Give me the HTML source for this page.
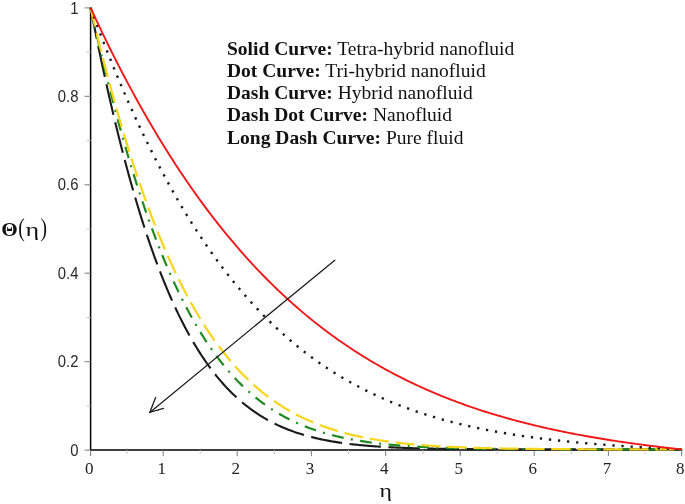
<!DOCTYPE html>
<html><head><meta charset="utf-8"><title>Temperature profile</title>
<style>
html,body{margin:0;padding:0;background:#fff;}
svg{display:block}
.sans{font-family:"Liberation Sans",sans-serif;}
.serif{font-family:"Liberation Serif",serif;}
</style></head><body>
<svg width="685" height="504" viewBox="0 0 685 504">
<rect width="685" height="504" fill="#fff"/>

<g stroke="#000" stroke-width="1.5" fill="none">
<path d="M90.6 7.4 V450.1 H682.3000000000001"/>
</g>
<g stroke="#7a7a7a" stroke-width="1" fill="none">
<path d="M90.6 450.1 v6"/>
<path d="M163.2 450.1 v6"/>
<path d="M237.2 450.1 v6"/>
<path d="M311.4 450.1 v6"/>
<path d="M385.7 450.1 v6"/>
<path d="M460.2 450.1 v6"/>
<path d="M534.2 450.1 v6"/>
<path d="M608.4 450.1 v6"/>
<path d="M681.7 450.1 v6"/>
<path d="M90.6 450.1 h-6"/>
<path d="M90.6 361.7 h-6"/>
<path d="M90.6 273.2 h-6"/>
<path d="M90.6 184.8 h-6"/>
<path d="M90.6 96.3 h-6"/>
<path d="M90.6 7.9 h-6"/>
</g>
<g stroke="#c4c4c4" stroke-width="1" fill="none">
<path d="M126.9 450.1 v4"/>
<path d="M200.2 450.1 v4"/>
<path d="M274.3 450.1 v4"/>
<path d="M348.5 450.1 v4"/>
<path d="M422.9 450.1 v4"/>
<path d="M497.2 450.1 v4"/>
<path d="M571.3 450.1 v4"/>
<path d="M645.0 450.1 v4"/>
<path d="M90.6 405.9 h-4"/>
<path d="M90.6 317.4 h-4"/>
<path d="M90.6 229.0 h-4"/>
<path d="M90.6 140.6 h-4"/>
<path d="M90.6 52.1 h-4"/>
</g>
<path d="M90.60 7.80 L92.08 15.40 L93.56 22.90 L95.05 30.32 L96.53 37.64 L98.01 44.87 L99.49 52.01 L100.97 59.05 L102.45 66.01 L103.94 72.88 L105.42 79.65 L106.90 86.34 L108.38 92.94 L109.86 99.45 L111.34 105.87 L112.83 112.20 L114.31 118.45 L115.79 124.61 L117.27 130.68 L118.75 136.67 L120.23 142.58 L121.72 148.40 L123.20 154.13 L124.68 159.78 L126.16 165.35 L127.64 170.84 L129.12 176.24 L130.61 181.57 L132.09 186.81 L133.57 191.98 L135.05 197.06 L136.53 202.07 L138.01 207.00 L139.50 211.85 L140.98 216.63 L142.46 221.33 L143.94 225.96 L145.42 230.51 L146.90 234.99 L148.39 239.39 L149.87 243.72 L151.35 247.99 L152.83 252.18 L154.31 256.30 L155.79 260.35 L157.28 264.33 L158.76 268.25 L160.24 272.10 L161.72 275.88 L163.20 279.60 L164.69 283.25 L166.17 286.84 L167.65 290.37 L169.13 293.83 L170.61 297.23 L172.09 300.57 L173.58 303.85 L175.06 307.07 L176.54 310.23 L178.02 313.34 L179.50 316.38 L180.98 319.37 L182.47 322.31 L183.95 325.18 L185.43 328.01 L186.91 330.78 L188.39 333.50 L189.87 336.16 L191.36 338.78 L192.84 341.34 L194.32 343.86 L195.80 346.32 L197.28 348.74 L198.76 351.10 L200.25 353.43 L201.73 355.70 L203.21 357.93 L204.69 360.11 L206.17 362.25 L207.65 364.35 L209.14 366.40 L210.62 368.41 L212.10 370.38 L213.58 372.31 L215.06 374.20 L216.54 376.05 L218.03 377.86 L219.51 379.63 L220.99 381.36 L222.47 383.06 L223.95 384.71 L225.44 386.34 L226.92 387.93 L228.40 389.48 L229.88 391.00 L231.36 392.49 L232.84 393.94 L234.33 395.36 L235.81 396.75 L237.29 398.11 L238.77 399.44 L240.25 400.73 L241.73 402.00 L243.22 403.24 L244.70 404.45 L246.18 405.64 L247.66 406.79 L249.14 407.92 L250.62 409.02 L252.11 410.10 L253.59 411.15 L255.07 412.18 L256.55 413.18 L258.03 414.16 L259.51 415.12 L261.00 416.05 L262.48 416.96 L263.96 417.85 L265.44 418.71 L266.92 419.56 L268.40 420.38 L269.89 421.19 L271.37 421.97 L272.85 422.74 L274.33 423.48 L275.81 424.21 L277.29 424.92 L278.78 425.61 L280.26 426.29 L281.74 426.94 L283.22 427.58 L284.70 428.21 L286.18 428.81 L287.67 429.41 L289.15 429.98 L290.63 430.55 L292.11 431.09 L293.59 431.63 L295.08 432.14 L296.56 432.65 L298.04 433.14 L299.52 433.62 L301.00 434.09 L302.48 434.54 L303.97 434.98 L305.45 435.41 L306.93 435.83 L308.41 436.24 L309.89 436.63 L311.37 437.02 L312.86 437.39 L314.34 437.76 L315.82 438.11 L317.30 438.46 L318.78 438.79 L320.26 439.12 L321.75 439.43 L323.23 439.74 L324.71 440.04 L326.19 440.33 L327.67 440.61 L329.15 440.89 L330.64 441.15 L332.12 441.41 L333.60 441.66 L335.08 441.91 L336.56 442.14 L338.04 442.38 L339.53 442.60 L341.01 442.82 L342.49 443.03 L343.97 443.23 L345.45 443.43 L346.93 443.62 L348.42 443.81 L349.90 443.99 L351.38 444.17 L352.86 444.34 L354.34 444.50 L355.83 444.66 L357.31 444.82 L358.79 444.97 L360.27 445.12 L361.75 445.26 L363.23 445.40 L364.72 445.53 L366.20 445.66 L367.68 445.78 L369.16 445.91 L370.64 446.02 L372.12 446.14 L373.61 446.25 L375.09 446.35 L376.57 446.46 L378.05 446.56 L379.53 446.66 L381.01 446.75 L382.50 446.84 L383.98 446.93 L385.46 447.01 L386.94 447.10 L388.42 447.18 L389.90 447.25 L391.39 447.33 L392.87 447.40 L394.35 447.47 L395.83 447.54 L397.31 447.60 L398.79 447.67 L400.28 447.73 L401.76 447.79 L403.24 447.85 L404.72 447.90 L406.20 447.96 L407.68 448.01 L409.17 448.06 L410.65 448.11 L412.13 448.15 L413.61 448.20 L415.09 448.24 L416.57 448.28 L418.06 448.32 L419.54 448.36 L421.02 448.40 L422.50 448.44 L423.98 448.47 L425.47 448.51 L426.95 448.54 L428.43 448.57 L429.91 448.60 L431.39 448.63 L432.87 448.66 L434.36 448.69 L435.84 448.72 L437.32 448.74 L438.80 448.77 L440.28 448.79 L441.76 448.81 L443.25 448.84 L444.73 448.86 L446.21 448.88 L447.69 448.90 L449.17 448.92 L450.65 448.94 L452.14 448.95 L453.62 448.97 L455.10 448.99 L456.58 449.00 L458.06 449.02 L459.54 449.03 L461.03 449.05 L462.51 449.06 L463.99 449.08 L465.47 449.09 L466.95 449.10 L468.43 449.11 L469.92 449.12 L471.40 449.14 L472.88 449.15 L474.36 449.16 L475.84 449.17 L477.32 449.18 L478.81 449.18 L480.29 449.19 L481.77 449.20 L483.25 449.21 L484.73 449.22 L486.22 449.22 L487.70 449.23 L489.18 449.24 L490.66 449.25 L492.14 449.25 L493.62 449.26 L495.11 449.26 L496.59 449.27 L498.07 449.27 L499.55 449.28 L501.03 449.29 L502.51 449.29 L504.00 449.29 L505.48 449.30 L506.96 449.30 L508.44 449.31 L509.92 449.31 L511.40 449.32 L512.89 449.32 L514.37 449.32 L515.85 449.33 L517.33 449.33 L518.81 449.33 L520.29 449.33 L521.78 449.34 L523.26 449.34 L524.74 449.34 L526.22 449.35 L527.70 449.35 L529.18 449.35 L530.67 449.35 L532.15 449.35 L533.63 449.36 L535.11 449.36 L536.59 449.36 L538.07 449.36 L539.56 449.36 L541.04 449.37 L542.52 449.37 L544.00 449.37 L545.48 449.37 L546.96 449.37 L548.45 449.37 L549.93 449.37 L551.41 449.38 L552.89 449.38 L554.37 449.38 L555.86 449.38 L557.34 449.38 L558.82 449.38 L560.30 449.38 L561.78 449.38 L563.26 449.38 L564.75 449.38 L566.23 449.38 L567.71 449.39 L569.19 449.39 L570.67 449.39 L572.15 449.39 L573.64 449.39 L575.12 449.39 L576.60 449.39 L578.08 449.39 L579.56 449.39 L581.04 449.39 L582.53 449.39 L584.01 449.39 L585.49 449.39 L586.97 449.39 L588.45 449.39 L589.93 449.39 L591.42 449.39 L592.90 449.39 L594.38 449.39 L595.86 449.39 L597.34 449.39 L598.82 449.40 L600.31 449.40 L601.79 449.40 L603.27 449.40 L604.75 449.40 L606.23 449.40 L607.71 449.40 L609.20 449.40 L610.68 449.40 L612.16 449.40 L613.64 449.40 L615.12 449.40 L616.61 449.40 L618.09 449.40 L619.57 449.40 L621.05 449.40 L622.53 449.40 L624.01 449.40 L625.50 449.40 L626.98 449.40 L628.46 449.40 L629.94 449.40 L631.42 449.40 L632.90 449.40 L634.39 449.40 L635.87 449.40 L637.35 449.40 L638.83 449.40 L640.31 449.40 L641.79 449.40 L643.28 449.40 L644.76 449.40 L646.24 449.40 L647.72 449.40 L649.20 449.40 L650.68 449.40 L652.17 449.40 L653.65 449.40 L655.13 449.40 L656.61 449.40 L658.09 449.40 L659.57 449.40 L661.06 449.40 L662.54 449.40 L664.02 449.40 L665.50 449.40 L666.98 449.40 L668.46 449.40 L669.95 449.40 L671.43 449.40 L672.91 449.40 L674.39 449.40 L675.87 449.40 L677.35 449.40 L678.84 449.40 L680.32 449.40 L681.80 449.40" fill="none" stroke="#1a1a1a" stroke-width="2.1" stroke-dasharray="31.5 7.5"/>
<path d="M90.60 7.80 L92.08 14.51 L93.56 21.14 L95.05 27.71 L96.53 34.20 L98.01 40.62 L99.49 46.97 L100.97 53.25 L102.45 59.47 L103.94 65.61 L105.42 71.68 L106.90 77.68 L108.38 83.61 L109.86 89.47 L111.34 95.27 L112.83 100.99 L114.31 106.65 L115.79 112.24 L117.27 117.76 L118.75 123.21 L120.23 128.60 L121.72 133.92 L123.20 139.18 L124.68 144.37 L126.16 149.49 L127.64 154.55 L129.12 159.54 L130.61 164.47 L132.09 169.34 L133.57 174.14 L135.05 178.88 L136.53 183.55 L138.01 188.17 L139.50 192.72 L140.98 197.21 L142.46 201.64 L143.94 206.01 L145.42 210.32 L146.90 214.56 L148.39 218.75 L149.87 222.89 L151.35 226.96 L152.83 230.98 L154.31 234.93 L155.79 238.84 L157.28 242.68 L158.76 246.47 L160.24 250.20 L161.72 253.88 L163.20 257.51 L164.69 261.08 L166.17 264.60 L167.65 268.06 L169.13 271.48 L170.61 274.84 L172.09 278.15 L173.58 281.41 L175.06 284.61 L176.54 287.77 L178.02 290.88 L179.50 293.94 L180.98 296.96 L182.47 299.92 L183.95 302.84 L185.43 305.71 L186.91 308.53 L188.39 311.31 L189.87 314.04 L191.36 316.73 L192.84 319.38 L194.32 321.98 L195.80 324.54 L197.28 327.05 L198.76 329.53 L200.25 331.96 L201.73 334.35 L203.21 336.70 L204.69 339.01 L206.17 341.28 L207.65 343.51 L209.14 345.70 L210.62 347.85 L212.10 349.97 L213.58 352.05 L215.06 354.09 L216.54 356.10 L218.03 358.07 L219.51 360.00 L220.99 361.90 L222.47 363.77 L223.95 365.60 L225.44 367.40 L226.92 369.17 L228.40 370.90 L229.88 372.60 L231.36 374.27 L232.84 375.91 L234.33 377.52 L235.81 379.10 L237.29 380.64 L238.77 382.16 L240.25 383.65 L241.73 385.11 L243.22 386.55 L244.70 387.95 L246.18 389.33 L247.66 390.68 L249.14 392.01 L250.62 393.31 L252.11 394.58 L253.59 395.83 L255.07 397.06 L256.55 398.26 L258.03 399.43 L259.51 400.59 L261.00 401.71 L262.48 402.82 L263.96 403.91 L265.44 404.97 L266.92 406.01 L268.40 407.03 L269.89 408.02 L271.37 409.00 L272.85 409.96 L274.33 410.90 L275.81 411.81 L277.29 412.71 L278.78 413.59 L280.26 414.45 L281.74 415.29 L283.22 416.12 L284.70 416.93 L286.18 417.71 L287.67 418.49 L289.15 419.24 L290.63 419.98 L292.11 420.71 L293.59 421.41 L295.08 422.11 L296.56 422.78 L298.04 423.44 L299.52 424.09 L301.00 424.72 L302.48 425.34 L303.97 425.95 L305.45 426.54 L306.93 427.12 L308.41 427.68 L309.89 428.23 L311.37 428.77 L312.86 429.30 L314.34 429.82 L315.82 430.32 L317.30 430.81 L318.78 431.29 L320.26 431.76 L321.75 432.22 L323.23 432.67 L324.71 433.10 L326.19 433.53 L327.67 433.95 L329.15 434.35 L330.64 434.75 L332.12 435.14 L333.60 435.52 L335.08 435.89 L336.56 436.25 L338.04 436.60 L339.53 436.94 L341.01 437.28 L342.49 437.60 L343.97 437.92 L345.45 438.23 L346.93 438.54 L348.42 438.83 L349.90 439.12 L351.38 439.40 L352.86 439.68 L354.34 439.94 L355.83 440.20 L357.31 440.46 L358.79 440.71 L360.27 440.95 L361.75 441.18 L363.23 441.41 L364.72 441.64 L366.20 441.85 L367.68 442.07 L369.16 442.27 L370.64 442.47 L372.12 442.67 L373.61 442.86 L375.09 443.05 L376.57 443.23 L378.05 443.41 L379.53 443.58 L381.01 443.74 L382.50 443.91 L383.98 444.07 L385.46 444.22 L386.94 444.37 L388.42 444.52 L389.90 444.66 L391.39 444.80 L392.87 444.93 L394.35 445.06 L395.83 445.19 L397.31 445.32 L398.79 445.44 L400.28 445.55 L401.76 445.67 L403.24 445.78 L404.72 445.89 L406.20 445.99 L407.68 446.10 L409.17 446.20 L410.65 446.29 L412.13 446.39 L413.61 446.48 L415.09 446.57 L416.57 446.65 L418.06 446.74 L419.54 446.82 L421.02 446.90 L422.50 446.97 L423.98 447.05 L425.47 447.12 L426.95 447.19 L428.43 447.26 L429.91 447.33 L431.39 447.39 L432.87 447.45 L434.36 447.51 L435.84 447.57 L437.32 447.63 L438.80 447.69 L440.28 447.74 L441.76 447.79 L443.25 447.84 L444.73 447.89 L446.21 447.94 L447.69 447.99 L449.17 448.03 L450.65 448.08 L452.14 448.12 L453.62 448.16 L455.10 448.20 L456.58 448.24 L458.06 448.28 L459.54 448.31 L461.03 448.35 L462.51 448.38 L463.99 448.42 L465.47 448.45 L466.95 448.48 L468.43 448.51 L469.92 448.54 L471.40 448.57 L472.88 448.60 L474.36 448.62 L475.84 448.65 L477.32 448.67 L478.81 448.70 L480.29 448.72 L481.77 448.74 L483.25 448.77 L484.73 448.79 L486.22 448.81 L487.70 448.83 L489.18 448.85 L490.66 448.87 L492.14 448.88 L493.62 448.90 L495.11 448.92 L496.59 448.94 L498.07 448.95 L499.55 448.97 L501.03 448.98 L502.51 449.00 L504.00 449.01 L505.48 449.02 L506.96 449.04 L508.44 449.05 L509.92 449.06 L511.40 449.07 L512.89 449.09 L514.37 449.10 L515.85 449.11 L517.33 449.12 L518.81 449.13 L520.29 449.14 L521.78 449.15 L523.26 449.16 L524.74 449.16 L526.22 449.17 L527.70 449.18 L529.18 449.19 L530.67 449.20 L532.15 449.20 L533.63 449.21 L535.11 449.22 L536.59 449.23 L538.07 449.23 L539.56 449.24 L541.04 449.24 L542.52 449.25 L544.00 449.26 L545.48 449.26 L546.96 449.27 L548.45 449.27 L549.93 449.28 L551.41 449.28 L552.89 449.29 L554.37 449.29 L555.86 449.29 L557.34 449.30 L558.82 449.30 L560.30 449.31 L561.78 449.31 L563.26 449.31 L564.75 449.32 L566.23 449.32 L567.71 449.32 L569.19 449.33 L570.67 449.33 L572.15 449.33 L573.64 449.33 L575.12 449.34 L576.60 449.34 L578.08 449.34 L579.56 449.34 L581.04 449.35 L582.53 449.35 L584.01 449.35 L585.49 449.35 L586.97 449.35 L588.45 449.36 L589.93 449.36 L591.42 449.36 L592.90 449.36 L594.38 449.36 L595.86 449.36 L597.34 449.37 L598.82 449.37 L600.31 449.37 L601.79 449.37 L603.27 449.37 L604.75 449.37 L606.23 449.37 L607.71 449.38 L609.20 449.38 L610.68 449.38 L612.16 449.38 L613.64 449.38 L615.12 449.38 L616.61 449.38 L618.09 449.38 L619.57 449.38 L621.05 449.38 L622.53 449.38 L624.01 449.39 L625.50 449.39 L626.98 449.39 L628.46 449.39 L629.94 449.39 L631.42 449.39 L632.90 449.39 L634.39 449.39 L635.87 449.39 L637.35 449.39 L638.83 449.39 L640.31 449.39 L641.79 449.39 L643.28 449.39 L644.76 449.39 L646.24 449.39 L647.72 449.39 L649.20 449.39 L650.68 449.40 L652.17 449.40 L653.65 449.40 L655.13 449.40 L656.61 449.40 L658.09 449.40 L659.57 449.40 L661.06 449.40 L662.54 449.40 L664.02 449.40 L665.50 449.40 L666.98 449.40 L668.46 449.40 L669.95 449.40 L671.43 449.40 L672.91 449.40 L674.39 449.40 L675.87 449.40 L677.35 449.40 L678.84 449.40 L680.32 449.40 L681.80 449.40" fill="none" stroke="#1f8a1f" stroke-width="2.2" stroke-dasharray="11.85 7.4 2 7.4"/>
<path d="M90.60 7.80 L92.08 14.11 L93.56 20.35 L95.05 26.53 L96.53 32.64 L98.01 38.69 L99.49 44.67 L100.97 50.59 L102.45 56.44 L103.94 62.23 L105.42 67.95 L106.90 73.62 L108.38 79.21 L109.86 84.75 L111.34 90.22 L112.83 95.64 L114.31 100.99 L115.79 106.27 L117.27 111.50 L118.75 116.67 L120.23 121.77 L121.72 126.82 L123.20 131.80 L124.68 136.73 L126.16 141.60 L127.64 146.41 L129.12 151.16 L130.61 155.85 L132.09 160.48 L133.57 165.06 L135.05 169.58 L136.53 174.05 L138.01 178.46 L139.50 182.81 L140.98 187.11 L142.46 191.35 L143.94 195.54 L145.42 199.68 L146.90 203.76 L148.39 207.79 L149.87 211.76 L151.35 215.69 L152.83 219.56 L154.31 223.38 L155.79 227.15 L157.28 230.87 L158.76 234.54 L160.24 238.16 L161.72 241.73 L163.20 245.25 L164.69 248.73 L166.17 252.15 L167.65 255.53 L169.13 258.86 L170.61 262.14 L172.09 265.38 L173.58 268.57 L175.06 271.72 L176.54 274.82 L178.02 277.88 L179.50 280.89 L180.98 283.86 L182.47 286.79 L183.95 289.67 L185.43 292.52 L186.91 295.32 L188.39 298.07 L189.87 300.79 L191.36 303.47 L192.84 306.11 L194.32 308.70 L195.80 311.26 L197.28 313.78 L198.76 316.26 L200.25 318.70 L201.73 321.11 L203.21 323.48 L204.69 325.81 L206.17 328.10 L207.65 330.36 L209.14 332.58 L210.62 334.77 L212.10 336.93 L213.58 339.05 L215.06 341.13 L216.54 343.19 L218.03 345.20 L219.51 347.19 L220.99 349.15 L222.47 351.07 L223.95 352.96 L225.44 354.82 L226.92 356.65 L228.40 358.45 L229.88 360.22 L231.36 361.96 L232.84 363.67 L234.33 365.35 L235.81 367.01 L237.29 368.63 L238.77 370.23 L240.25 371.80 L241.73 373.35 L243.22 374.86 L244.70 376.35 L246.18 377.82 L247.66 379.26 L249.14 380.68 L250.62 382.07 L252.11 383.43 L253.59 384.77 L255.07 386.09 L256.55 387.39 L258.03 388.66 L259.51 389.91 L261.00 391.14 L262.48 392.34 L263.96 393.52 L265.44 394.68 L266.92 395.82 L268.40 396.94 L269.89 398.04 L271.37 399.12 L272.85 400.18 L274.33 401.22 L275.81 402.24 L277.29 403.24 L278.78 404.22 L280.26 405.19 L281.74 406.13 L283.22 407.06 L284.70 407.97 L286.18 408.87 L287.67 409.74 L289.15 410.60 L290.63 411.44 L292.11 412.27 L293.59 413.08 L295.08 413.88 L296.56 414.66 L298.04 415.42 L299.52 416.17 L301.00 416.91 L302.48 417.63 L303.97 418.33 L305.45 419.02 L306.93 419.70 L308.41 420.37 L309.89 421.02 L311.37 421.66 L312.86 422.28 L314.34 422.90 L315.82 423.50 L317.30 424.09 L318.78 424.66 L320.26 425.23 L321.75 425.78 L323.23 426.32 L324.71 426.85 L326.19 427.37 L327.67 427.88 L329.15 428.38 L330.64 428.87 L332.12 429.35 L333.60 429.81 L335.08 430.27 L336.56 430.72 L338.04 431.16 L339.53 431.59 L341.01 432.01 L342.49 432.42 L343.97 432.82 L345.45 433.22 L346.93 433.60 L348.42 433.98 L349.90 434.35 L351.38 434.71 L352.86 435.06 L354.34 435.41 L355.83 435.75 L357.31 436.08 L358.79 436.40 L360.27 436.72 L361.75 437.03 L363.23 437.33 L364.72 437.62 L366.20 437.91 L367.68 438.20 L369.16 438.47 L370.64 438.74 L372.12 439.01 L373.61 439.26 L375.09 439.52 L376.57 439.76 L378.05 440.00 L379.53 440.24 L381.01 440.47 L382.50 440.69 L383.98 440.91 L385.46 441.13 L386.94 441.34 L388.42 441.54 L389.90 441.74 L391.39 441.94 L392.87 442.13 L394.35 442.31 L395.83 442.49 L397.31 442.67 L398.79 442.85 L400.28 443.01 L401.76 443.18 L403.24 443.34 L404.72 443.50 L406.20 443.65 L407.68 443.80 L409.17 443.95 L410.65 444.09 L412.13 444.23 L413.61 444.37 L415.09 444.50 L416.57 444.63 L418.06 444.76 L419.54 444.88 L421.02 445.00 L422.50 445.12 L423.98 445.23 L425.47 445.34 L426.95 445.45 L428.43 445.56 L429.91 445.66 L431.39 445.76 L432.87 445.86 L434.36 445.96 L435.84 446.05 L437.32 446.14 L438.80 446.23 L440.28 446.31 L441.76 446.40 L443.25 446.48 L444.73 446.56 L446.21 446.64 L447.69 446.72 L449.17 446.79 L450.65 446.86 L452.14 446.93 L453.62 447.00 L455.10 447.07 L456.58 447.13 L458.06 447.20 L459.54 447.26 L461.03 447.32 L462.51 447.38 L463.99 447.43 L465.47 447.49 L466.95 447.54 L468.43 447.60 L469.92 447.65 L471.40 447.70 L472.88 447.75 L474.36 447.79 L475.84 447.84 L477.32 447.88 L478.81 447.93 L480.29 447.97 L481.77 448.01 L483.25 448.05 L484.73 448.09 L486.22 448.13 L487.70 448.17 L489.18 448.20 L490.66 448.24 L492.14 448.27 L493.62 448.30 L495.11 448.34 L496.59 448.37 L498.07 448.40 L499.55 448.43 L501.03 448.46 L502.51 448.48 L504.00 448.51 L505.48 448.54 L506.96 448.56 L508.44 448.59 L509.92 448.61 L511.40 448.64 L512.89 448.66 L514.37 448.68 L515.85 448.70 L517.33 448.72 L518.81 448.74 L520.29 448.76 L521.78 448.78 L523.26 448.80 L524.74 448.82 L526.22 448.84 L527.70 448.85 L529.18 448.87 L530.67 448.89 L532.15 448.90 L533.63 448.92 L535.11 448.93 L536.59 448.95 L538.07 448.96 L539.56 448.98 L541.04 448.99 L542.52 449.00 L544.00 449.01 L545.48 449.03 L546.96 449.04 L548.45 449.05 L549.93 449.06 L551.41 449.07 L552.89 449.08 L554.37 449.09 L555.86 449.10 L557.34 449.11 L558.82 449.12 L560.30 449.13 L561.78 449.14 L563.26 449.15 L564.75 449.15 L566.23 449.16 L567.71 449.17 L569.19 449.18 L570.67 449.18 L572.15 449.19 L573.64 449.20 L575.12 449.20 L576.60 449.21 L578.08 449.22 L579.56 449.22 L581.04 449.23 L582.53 449.23 L584.01 449.24 L585.49 449.24 L586.97 449.25 L588.45 449.25 L589.93 449.26 L591.42 449.26 L592.90 449.27 L594.38 449.27 L595.86 449.28 L597.34 449.28 L598.82 449.28 L600.31 449.29 L601.79 449.29 L603.27 449.30 L604.75 449.30 L606.23 449.30 L607.71 449.31 L609.20 449.31 L610.68 449.31 L612.16 449.32 L613.64 449.32 L615.12 449.32 L616.61 449.32 L618.09 449.33 L619.57 449.33 L621.05 449.33 L622.53 449.33 L624.01 449.34 L625.50 449.34 L626.98 449.34 L628.46 449.34 L629.94 449.34 L631.42 449.35 L632.90 449.35 L634.39 449.35 L635.87 449.35 L637.35 449.35 L638.83 449.36 L640.31 449.36 L641.79 449.36 L643.28 449.36 L644.76 449.36 L646.24 449.36 L647.72 449.37 L649.20 449.37 L650.68 449.37 L652.17 449.37 L653.65 449.37 L655.13 449.37 L656.61 449.37 L658.09 449.38 L659.57 449.38 L661.06 449.38 L662.54 449.38 L664.02 449.38 L665.50 449.38 L666.98 449.38 L668.46 449.38 L669.95 449.39 L671.43 449.39 L672.91 449.39 L674.39 449.39 L675.87 449.39 L677.35 449.39 L678.84 449.40 L680.32 449.40 L681.80 449.40" fill="none" stroke="#f6d51c" stroke-width="2.2" stroke-dasharray="19.2 6.8"/>
<path d="M90.60 7.80 L92.08 11.85 L93.56 15.86 L95.05 19.85 L96.53 23.80 L98.01 27.73 L99.49 31.63 L100.97 35.50 L102.45 39.34 L103.94 43.16 L105.42 46.94 L106.90 50.70 L108.38 54.43 L109.86 58.13 L111.34 61.80 L112.83 65.44 L114.31 69.06 L115.79 72.65 L117.27 76.21 L118.75 79.75 L120.23 83.25 L121.72 86.73 L123.20 90.19 L124.68 93.62 L126.16 97.02 L127.64 100.39 L129.12 103.74 L130.61 107.06 L132.09 110.36 L133.57 113.63 L135.05 116.87 L136.53 120.09 L138.01 123.28 L139.50 126.45 L140.98 129.59 L142.46 132.71 L143.94 135.81 L145.42 138.87 L146.90 141.92 L148.39 144.94 L149.87 147.93 L151.35 150.90 L152.83 153.85 L154.31 156.77 L155.79 159.67 L157.28 162.54 L158.76 165.39 L160.24 168.22 L161.72 171.03 L163.20 173.81 L164.69 176.57 L166.17 179.30 L167.65 182.02 L169.13 184.71 L170.61 187.37 L172.09 190.02 L173.58 192.64 L175.06 195.24 L176.54 197.82 L178.02 200.38 L179.50 202.92 L180.98 205.43 L182.47 207.92 L183.95 210.39 L185.43 212.85 L186.91 215.27 L188.39 217.68 L189.87 220.07 L191.36 222.44 L192.84 224.78 L194.32 227.11 L195.80 229.42 L197.28 231.70 L198.76 233.97 L200.25 236.22 L201.73 238.44 L203.21 240.65 L204.69 242.84 L206.17 245.01 L207.65 247.15 L209.14 249.28 L210.62 251.40 L212.10 253.49 L213.58 255.56 L215.06 257.62 L216.54 259.65 L218.03 261.67 L219.51 263.67 L220.99 265.65 L222.47 267.62 L223.95 269.56 L225.44 271.49 L226.92 273.40 L228.40 275.30 L229.88 277.17 L231.36 279.03 L232.84 280.87 L234.33 282.70 L235.81 284.51 L237.29 286.30 L238.77 288.07 L240.25 289.83 L241.73 291.57 L243.22 293.30 L244.70 295.01 L246.18 296.70 L247.66 298.38 L249.14 300.04 L250.62 301.69 L252.11 303.32 L253.59 304.94 L255.07 306.54 L256.55 308.12 L258.03 309.69 L259.51 311.25 L261.00 312.79 L262.48 314.31 L263.96 315.82 L265.44 317.32 L266.92 318.80 L268.40 320.27 L269.89 321.72 L271.37 323.16 L272.85 324.58 L274.33 326.00 L275.81 327.39 L277.29 328.78 L278.78 330.15 L280.26 331.50 L281.74 332.85 L283.22 334.18 L284.70 335.50 L286.18 336.80 L287.67 338.09 L289.15 339.37 L290.63 340.64 L292.11 341.89 L293.59 343.13 L295.08 344.36 L296.56 345.58 L298.04 346.78 L299.52 347.97 L301.00 349.15 L302.48 350.32 L303.97 351.48 L305.45 352.62 L306.93 353.75 L308.41 354.87 L309.89 355.98 L311.37 357.08 L312.86 358.17 L314.34 359.25 L315.82 360.31 L317.30 361.37 L318.78 362.41 L320.26 363.44 L321.75 364.46 L323.23 365.48 L324.71 366.48 L326.19 367.47 L327.67 368.45 L329.15 369.42 L330.64 370.38 L332.12 371.33 L333.60 372.27 L335.08 373.20 L336.56 374.12 L338.04 375.03 L339.53 375.93 L341.01 376.82 L342.49 377.71 L343.97 378.58 L345.45 379.44 L346.93 380.30 L348.42 381.14 L349.90 381.98 L351.38 382.81 L352.86 383.62 L354.34 384.43 L355.83 385.24 L357.31 386.03 L358.79 386.81 L360.27 387.59 L361.75 388.36 L363.23 389.11 L364.72 389.86 L366.20 390.61 L367.68 391.34 L369.16 392.07 L370.64 392.79 L372.12 393.50 L373.61 394.20 L375.09 394.90 L376.57 395.58 L378.05 396.26 L379.53 396.94 L381.01 397.60 L382.50 398.26 L383.98 398.91 L385.46 399.55 L386.94 400.19 L388.42 400.82 L389.90 401.44 L391.39 402.06 L392.87 402.66 L394.35 403.27 L395.83 403.86 L397.31 404.45 L398.79 405.03 L400.28 405.61 L401.76 406.18 L403.24 406.74 L404.72 407.29 L406.20 407.84 L407.68 408.39 L409.17 408.92 L410.65 409.46 L412.13 409.98 L413.61 410.50 L415.09 411.01 L416.57 411.52 L418.06 412.02 L419.54 412.52 L421.02 413.01 L422.50 413.49 L423.98 413.97 L425.47 414.45 L426.95 414.92 L428.43 415.38 L429.91 415.84 L431.39 416.29 L432.87 416.74 L434.36 417.18 L435.84 417.61 L437.32 418.05 L438.80 418.47 L440.28 418.89 L441.76 419.31 L443.25 419.72 L444.73 420.13 L446.21 420.53 L447.69 420.93 L449.17 421.33 L450.65 421.71 L452.14 422.10 L453.62 422.48 L455.10 422.85 L456.58 423.22 L458.06 423.59 L459.54 423.95 L461.03 424.31 L462.51 424.66 L463.99 425.01 L465.47 425.36 L466.95 425.70 L468.43 426.04 L469.92 426.37 L471.40 426.70 L472.88 427.03 L474.36 427.35 L475.84 427.67 L477.32 427.98 L478.81 428.29 L480.29 428.60 L481.77 428.90 L483.25 429.20 L484.73 429.50 L486.22 429.79 L487.70 430.08 L489.18 430.36 L490.66 430.64 L492.14 430.92 L493.62 431.20 L495.11 431.47 L496.59 431.74 L498.07 432.01 L499.55 432.27 L501.03 432.53 L502.51 432.78 L504.00 433.04 L505.48 433.29 L506.96 433.53 L508.44 433.78 L509.92 434.02 L511.40 434.26 L512.89 434.49 L514.37 434.73 L515.85 434.96 L517.33 435.18 L518.81 435.41 L520.29 435.63 L521.78 435.85 L523.26 436.07 L524.74 436.28 L526.22 436.49 L527.70 436.70 L529.18 436.91 L530.67 437.11 L532.15 437.31 L533.63 437.51 L535.11 437.71 L536.59 437.91 L538.07 438.10 L539.56 438.29 L541.04 438.48 L542.52 438.66 L544.00 438.84 L545.48 439.03 L546.96 439.20 L548.45 439.38 L549.93 439.56 L551.41 439.73 L552.89 439.90 L554.37 440.07 L555.86 440.24 L557.34 440.40 L558.82 440.56 L560.30 440.72 L561.78 440.88 L563.26 441.04 L564.75 441.20 L566.23 441.35 L567.71 441.50 L569.19 441.65 L570.67 441.80 L572.15 441.95 L573.64 442.09 L575.12 442.24 L576.60 442.38 L578.08 442.52 L579.56 442.66 L581.04 442.79 L582.53 442.93 L584.01 443.06 L585.49 443.19 L586.97 443.32 L588.45 443.45 L589.93 443.58 L591.42 443.71 L592.90 443.83 L594.38 443.96 L595.86 444.08 L597.34 444.20 L598.82 444.32 L600.31 444.44 L601.79 444.55 L603.27 444.67 L604.75 444.78 L606.23 444.90 L607.71 445.01 L609.20 445.12 L610.68 445.23 L612.16 445.34 L613.64 445.45 L615.12 445.55 L616.61 445.66 L618.09 445.76 L619.57 445.86 L621.05 445.97 L622.53 446.07 L624.01 446.17 L625.50 446.26 L626.98 446.36 L628.46 446.46 L629.94 446.55 L631.42 446.65 L632.90 446.74 L634.39 446.84 L635.87 446.93 L637.35 447.02 L638.83 447.11 L640.31 447.20 L641.79 447.29 L643.28 447.38 L644.76 447.46 L646.24 447.55 L647.72 447.63 L649.20 447.72 L650.68 447.80 L652.17 447.88 L653.65 447.97 L655.13 448.05 L656.61 448.13 L658.09 448.21 L659.57 448.29 L661.06 448.37 L662.54 448.44 L664.02 448.52 L665.50 448.60 L666.98 448.67 L668.46 448.75 L669.95 448.82 L671.43 448.90 L672.91 448.97 L674.39 449.04 L675.87 449.12 L677.35 449.19 L678.84 449.26 L680.32 449.33 L681.80 449.40" fill="none" stroke="#1a1a1a" stroke-width="2.4" stroke-dasharray="2.3 6.8"/>
<path d="M90.60 7.80 L92.08 11.02 L93.56 14.22 L95.05 17.40 L96.53 20.57 L98.01 23.71 L99.49 26.84 L100.97 29.95 L102.45 33.04 L103.94 36.11 L105.42 39.17 L106.90 42.20 L108.38 45.22 L109.86 48.22 L111.34 51.21 L112.83 54.17 L114.31 57.12 L115.79 60.05 L117.27 62.96 L118.75 65.86 L120.23 68.74 L121.72 71.60 L123.20 74.44 L124.68 77.27 L126.16 80.08 L127.64 82.87 L129.12 85.64 L130.61 88.40 L132.09 91.15 L133.57 93.87 L135.05 96.58 L136.53 99.27 L138.01 101.95 L139.50 104.61 L140.98 107.25 L142.46 109.88 L143.94 112.49 L145.42 115.08 L146.90 117.66 L148.39 120.22 L149.87 122.77 L151.35 125.30 L152.83 127.81 L154.31 130.31 L155.79 132.79 L157.28 135.26 L158.76 137.71 L160.24 140.15 L161.72 142.57 L163.20 144.97 L164.69 147.36 L166.17 149.74 L167.65 152.10 L169.13 154.44 L170.61 156.77 L172.09 159.09 L173.58 161.39 L175.06 163.67 L176.54 165.94 L178.02 168.20 L179.50 170.44 L180.98 172.67 L182.47 174.88 L183.95 177.08 L185.43 179.26 L186.91 181.43 L188.39 183.58 L189.87 185.73 L191.36 187.85 L192.84 189.97 L194.32 192.06 L195.80 194.15 L197.28 196.22 L198.76 198.28 L200.25 200.32 L201.73 202.35 L203.21 204.37 L204.69 206.37 L206.17 208.37 L207.65 210.34 L209.14 212.31 L210.62 214.26 L212.10 216.19 L213.58 218.12 L215.06 220.03 L216.54 221.93 L218.03 223.81 L219.51 225.69 L220.99 227.55 L222.47 229.39 L223.95 231.23 L225.44 233.05 L226.92 234.86 L228.40 236.66 L229.88 238.45 L231.36 240.22 L232.84 241.98 L234.33 243.73 L235.81 245.46 L237.29 247.19 L238.77 248.90 L240.25 250.60 L241.73 252.29 L243.22 253.97 L244.70 255.63 L246.18 257.29 L247.66 258.93 L249.14 260.56 L250.62 262.18 L252.11 263.79 L253.59 265.39 L255.07 266.97 L256.55 268.55 L258.03 270.11 L259.51 271.66 L261.00 273.20 L262.48 274.73 L263.96 276.25 L265.44 277.76 L266.92 279.26 L268.40 280.75 L269.89 282.22 L271.37 283.69 L272.85 285.15 L274.33 286.59 L275.81 288.03 L277.29 289.45 L278.78 290.86 L280.26 292.27 L281.74 293.66 L283.22 295.05 L284.70 296.42 L286.18 297.78 L287.67 299.14 L289.15 300.48 L290.63 301.81 L292.11 303.14 L293.59 304.45 L295.08 305.76 L296.56 307.05 L298.04 308.34 L299.52 309.62 L301.00 310.88 L302.48 312.14 L303.97 313.39 L305.45 314.63 L306.93 315.86 L308.41 317.08 L309.89 318.29 L311.37 319.49 L312.86 320.69 L314.34 321.87 L315.82 323.05 L317.30 324.22 L318.78 325.37 L320.26 326.52 L321.75 327.67 L323.23 328.80 L324.71 329.92 L326.19 331.04 L327.67 332.15 L329.15 333.24 L330.64 334.34 L332.12 335.42 L333.60 336.49 L335.08 337.56 L336.56 338.62 L338.04 339.67 L339.53 340.71 L341.01 341.74 L342.49 342.77 L343.97 343.79 L345.45 344.80 L346.93 345.80 L348.42 346.79 L349.90 347.78 L351.38 348.76 L352.86 349.73 L354.34 350.70 L355.83 351.66 L357.31 352.61 L358.79 353.55 L360.27 354.48 L361.75 355.41 L363.23 356.33 L364.72 357.25 L366.20 358.15 L367.68 359.05 L369.16 359.94 L370.64 360.83 L372.12 361.71 L373.61 362.58 L375.09 363.45 L376.57 364.30 L378.05 365.16 L379.53 366.00 L381.01 366.84 L382.50 367.67 L383.98 368.49 L385.46 369.31 L386.94 370.12 L388.42 370.93 L389.90 371.73 L391.39 372.52 L392.87 373.31 L394.35 374.09 L395.83 374.86 L397.31 375.63 L398.79 376.39 L400.28 377.15 L401.76 377.90 L403.24 378.64 L404.72 379.38 L406.20 380.11 L407.68 380.84 L409.17 381.56 L410.65 382.27 L412.13 382.98 L413.61 383.69 L415.09 384.38 L416.57 385.08 L418.06 385.76 L419.54 386.44 L421.02 387.12 L422.50 387.79 L423.98 388.45 L425.47 389.11 L426.95 389.77 L428.43 390.41 L429.91 391.06 L431.39 391.70 L432.87 392.33 L434.36 392.96 L435.84 393.58 L437.32 394.20 L438.80 394.81 L440.28 395.42 L441.76 396.02 L443.25 396.62 L444.73 397.21 L446.21 397.80 L447.69 398.38 L449.17 398.96 L450.65 399.53 L452.14 400.10 L453.62 400.67 L455.10 401.23 L456.58 401.78 L458.06 402.33 L459.54 402.88 L461.03 403.42 L462.51 403.96 L463.99 404.49 L465.47 405.02 L466.95 405.54 L468.43 406.06 L469.92 406.58 L471.40 407.09 L472.88 407.59 L474.36 408.10 L475.84 408.59 L477.32 409.09 L478.81 409.58 L480.29 410.07 L481.77 410.55 L483.25 411.03 L484.73 411.50 L486.22 411.97 L487.70 412.44 L489.18 412.90 L490.66 413.36 L492.14 413.81 L493.62 414.26 L495.11 414.71 L496.59 415.16 L498.07 415.60 L499.55 416.03 L501.03 416.46 L502.51 416.89 L504.00 417.32 L505.48 417.74 L506.96 418.16 L508.44 418.57 L509.92 418.99 L511.40 419.39 L512.89 419.80 L514.37 420.20 L515.85 420.60 L517.33 420.99 L518.81 421.38 L520.29 421.77 L521.78 422.16 L523.26 422.54 L524.74 422.92 L526.22 423.29 L527.70 423.66 L529.18 424.03 L530.67 424.40 L532.15 424.76 L533.63 425.12 L535.11 425.48 L536.59 425.83 L538.07 426.18 L539.56 426.53 L541.04 426.87 L542.52 427.22 L544.00 427.55 L545.48 427.89 L546.96 428.22 L548.45 428.56 L549.93 428.88 L551.41 429.21 L552.89 429.53 L554.37 429.85 L555.86 430.17 L557.34 430.48 L558.82 430.79 L560.30 431.10 L561.78 431.41 L563.26 431.71 L564.75 432.02 L566.23 432.31 L567.71 432.61 L569.19 432.90 L570.67 433.20 L572.15 433.49 L573.64 433.77 L575.12 434.06 L576.60 434.34 L578.08 434.62 L579.56 434.90 L581.04 435.17 L582.53 435.44 L584.01 435.71 L585.49 435.98 L586.97 436.25 L588.45 436.51 L589.93 436.77 L591.42 437.03 L592.90 437.29 L594.38 437.54 L595.86 437.80 L597.34 438.05 L598.82 438.30 L600.31 438.54 L601.79 438.79 L603.27 439.03 L604.75 439.27 L606.23 439.51 L607.71 439.74 L609.20 439.98 L610.68 440.21 L612.16 440.44 L613.64 440.67 L615.12 440.90 L616.61 441.12 L618.09 441.35 L619.57 441.57 L621.05 441.79 L622.53 442.00 L624.01 442.22 L625.50 442.43 L626.98 442.65 L628.46 442.86 L629.94 443.07 L631.42 443.27 L632.90 443.48 L634.39 443.68 L635.87 443.89 L637.35 444.09 L638.83 444.28 L640.31 444.48 L641.79 444.68 L643.28 444.87 L644.76 445.06 L646.24 445.25 L647.72 445.44 L649.20 445.63 L650.68 445.82 L652.17 446.00 L653.65 446.19 L655.13 446.37 L656.61 446.55 L658.09 446.73 L659.57 446.90 L661.06 447.08 L662.54 447.25 L664.02 447.43 L665.50 447.60 L666.98 447.77 L668.46 447.94 L669.95 448.11 L671.43 448.27 L672.91 448.44 L674.39 448.60 L675.87 448.76 L677.35 448.92 L678.84 449.08 L680.32 449.24 L681.80 449.40" fill="none" stroke="#f01818" stroke-width="1.9"/>
<g stroke="#1c1c1c" stroke-width="1.25" fill="none" stroke-linecap="round">
<path d="M334.8 260.2 L149.8 412.4"/>
<path d="M155.6 397.5 L149.8 412.4 L163.5 408.4"/>
</g>
<g class="sans" font-size="16.5" fill="#2a2a2a" text-anchor="end" transform="translate(78.5,0) scale(0.9,1)">
<text x="0" y="455.8">0</text>
<text x="0" y="367.4">0.2</text>
<text x="0" y="278.9">0.4</text>
<text x="0" y="190.5">0.6</text>
<text x="0" y="102.0">0.8</text>
<text x="0" y="13.6">1</text>
</g>
<g class="serif" font-size="17" fill="#222" text-anchor="middle">
<text x="89.2" y="474">0</text>
<text x="161.8" y="474">1</text>
<text x="235.8" y="474">2</text>
<text x="310.0" y="474">3</text>
<text x="384.3" y="474">4</text>
<text x="458.8" y="474">5</text>
<text x="532.8" y="474">6</text>
<text x="607.0" y="474">7</text>
<text x="680.3" y="474">8</text>
</g>
<text class="serif" font-size="19.5" fill="#111" transform="translate(379.6,497) scale(1.22,1)">η</text>
<g class="serif" fill="#111">
<text transform="translate(1.2,235.9) scale(1.09,1)" font-size="19.5" font-weight="bold">Θ</text>
<text transform="translate(18.2,236.2) scale(0.8,1)" font-size="24.5">(</text>
<text transform="translate(25.6,235.9) scale(1.45,1)" font-size="18">η</text>
<text transform="translate(40.6,236.2) scale(0.8,1)" font-size="24.5">)</text>
</g>
<g class="serif" font-size="18" fill="#111" transform="translate(227,0) scale(1.086,1)">
<text x="0" y="54.9" xml:space="preserve"><tspan font-weight="bold">Solid Curve:</tspan> Tetra-hybrid nanofluid</text>
<text x="0" y="77.3" xml:space="preserve"><tspan font-weight="bold">Dot Curve:</tspan> Tri-hybrid nanofluid</text>
<text x="0" y="99.4" xml:space="preserve"><tspan font-weight="bold">Dash Curve:</tspan> Hybrid nanofluid</text>
<text x="0" y="121.5" xml:space="preserve"><tspan font-weight="bold">Dash Dot Curve:</tspan> Nanofluid</text>
<text x="0" y="143.6" xml:space="preserve"><tspan font-weight="bold">Long Dash Curve:</tspan> Pure fluid</text>
</g>
</svg></body></html>
